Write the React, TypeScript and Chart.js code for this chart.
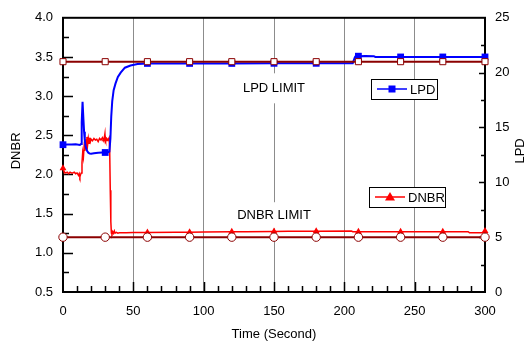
import React, { useEffect, useRef } from 'react';
import { Chart, registerables } from 'chart.js';
Chart.register(...registerables);

const FONT = '"Liberation Sans", Arial, Helvetica, sans-serif';

const xTickValues = [0, 50, 100, 150, 200, 250, 300];
const markerTimes = [0, 30, 60, 90, 120, 150, 180, 210, 240, 270, 300];
const lpdLimit = 21;
const dnbrLimit = 1.2;

const lpdTime = [0, 3, 6, 9, 12, 12.8, 13.3, 13.9, 14.5, 15, 15.5, 16, 17, 18, 19, 20, 22, 25, 28, 30, 32, 33, 33.7, 34.3, 35, 36, 37.3, 39, 41, 44, 48, 53, 60, 90, 120, 150, 180, 206, 207.5, 208, 210, 215, 221, 222, 240, 270, 300];
const lpdValues = [13.43, 13.45, 13.45, 13.46, 13.4, 13.5, 15.5, 17.35, 15.8, 14.6, 13.8, 13.3, 12.9, 12.7, 12.62, 12.6, 12.65, 12.7, 12.72, 12.72, 12.75, 12.8, 14.0, 16.0, 17.4, 18.4, 19.0, 19.6, 20.0, 20.45, 20.65, 20.78, 20.84, 20.84, 20.84, 20.85, 20.85, 20.86, 21.4, 21.5, 21.5, 21.52, 21.5, 21.43, 21.43, 21.43, 21.43];

const dnbrTime = [0, 0.5, 1, 2, 3, 4, 5, 6, 7, 8, 9, 10, 11, 11.5, 12, 12.5, 13, 13.5, 14, 14.5, 15, 15.5, 16, 16.5, 17, 17.5, 18, 18.5, 19, 19.5, 20, 21, 22, 23, 24, 25, 26, 27, 28, 29, 29.8, 30, 30.3, 31, 32, 32.8, 33.2, 33.6, 34, 34.4, 34.8, 35.3, 35.8, 36.5, 37, 38, 39, 40, 45, 50, 60, 80, 90, 100, 120, 130, 150, 160, 180, 205, 206, 210, 240, 270, 288, 289, 298, 300];
const dnbrValues = [2.08, 2.05, 2.03, 2.02, 2.03, 2.01, 2.03, 2.02, 2.02, 2.03, 2.01, 2.02, 1.99, 2.01, 1.97, 2.0, 2.02, 2.15, 2.28, 2.22, 2.35, 2.3, 2.45, 2.33, 2.48, 2.38, 2.46, 2.4, 2.47, 2.42, 2.45, 2.43, 2.46, 2.44, 2.45, 2.42, 2.46, 2.44, 2.47, 2.43, 2.52, 2.45, 2.43, 2.46, 2.44, 2.47, 2.3, 1.8, 1.4, 1.25, 1.24, 1.27, 1.25, 1.28, 1.25, 1.26, 1.25, 1.255, 1.255, 1.258, 1.26, 1.262, 1.264, 1.266, 1.269, 1.27, 1.272, 1.274, 1.276, 1.278, 1.27, 1.27, 1.27, 1.27, 1.27, 1.255, 1.255, 1.28];

const BLUE = '#0000ff';
const RED = '#ff0000';
const DARKRED = '#8b0000';

const toPoints = (xs: number[], ys: number[]) => xs.map((x, i) => ({ x, y: ys[i] }));
const markerRadius = (r: number) => (ctx: any) =>
  ctx.raw && markerTimes.includes(ctx.raw.x) ? r : 0;

const drawPlugin = {
  id: 'customDraw',
  beforeDatasetsDraw(chart: any) {
    const { ctx, chartArea: a, scales } = chart;
    const x = scales.x, y = scales.y, y1 = scales.y1;
    ctx.save();
    ctx.font = `13px ${FONT}`;
    ctx.textAlign = 'center';
    ctx.textBaseline = 'middle';
    const lx = x.getPixelForValue(150);
    const ly1 = y.getPixelForValue(3.1);
    ctx.fillStyle = '#fff';
    ctx.fillRect(lx - 34, ly1 - 15, 68, 30);
    ctx.fillStyle = '#000';
    ctx.fillText('LPD LIMIT', lx, ly1);
    const ly2 = y.getPixelForValue(1.48);
    ctx.fillStyle = '#fff';
    ctx.fillRect(lx - 38, ly2 - 13, 76, 26);
    ctx.fillStyle = '#000';
    ctx.fillText('DNBR LIMIT', lx, ly2);

    ctx.strokeStyle = '#000';
    ctx.lineWidth = 1.5;
    ctx.beginPath();
    for (let v = 10; v < 300; v += 10) {
      const px = Math.round(x.getPixelForValue(v)) + 0.5;
      const len = v % 50 === 0 ? 10 : 6;
      ctx.moveTo(px, a.bottom);
      ctx.lineTo(px, a.bottom - len);
    }
    for (let i = 1; i < 14; i++) {
      const v = 0.5 + i * 0.25;
      const py = Math.round(y.getPixelForValue(v)) + 0.5;
      const len = i % 2 === 0 ? 10 : 6;
      ctx.moveTo(a.left, py);
      ctx.lineTo(a.left + len, py);
    }
    for (let i = 1; i < 10; i++) {
      const v = i * 2.5;
      const py = Math.round(y1.getPixelForValue(v)) + 0.5;
      const len = i % 2 === 0 ? 6 : 4;
      ctx.moveTo(a.right, py);
      ctx.lineTo(a.right - len, py);
    }
    ctx.stroke();

    ctx.lineWidth = 2;
    ctx.strokeRect(a.left, a.top, a.right - a.left, a.bottom - a.top);
    ctx.restore();
  },
  afterDatasetsDraw(chart: any) {
    const { ctx, chartArea: a, scales } = chart;
    const x = scales.x, y = scales.y;
    ctx.save();
    ctx.font = `13px ${FONT}`;
    ctx.textBaseline = 'middle';
    ctx.textAlign = 'left';

    const legend = (left: number, top: number, w: number, label: string, color: string, shape: string) => {
      ctx.fillStyle = '#fff';
      ctx.fillRect(left, top, w, 20);
      ctx.strokeStyle = '#000';
      ctx.lineWidth = 1;
      ctx.strokeRect(left + 0.5, top + 0.5, w, 20);
      const cy = top + 10;
      ctx.strokeStyle = color;
      ctx.lineWidth = 1.5;
      ctx.beginPath();
      ctx.moveTo(left + 6, cy);
      ctx.lineTo(left + 36, cy);
      ctx.stroke();
      ctx.fillStyle = color;
      const mx = left + 21;
      if (shape === 'rect') {
        ctx.fillRect(mx - 3.5, cy - 3.5, 7, 7);
      } else {
        ctx.beginPath();
        ctx.moveTo(mx, cy - 5);
        ctx.lineTo(mx + 5, cy + 3.5);
        ctx.lineTo(mx - 5, cy + 3.5);
        ctx.closePath();
        ctx.fill();
      }
      ctx.fillStyle = '#000';
      ctx.fillText(label, left + 39, cy + 1);
    };
    legend(Math.round(x.getPixelForValue(219.2)), Math.round(y.getPixelForValue(3.213)), 66, 'LPD', BLUE, 'rect');
    legend(Math.round(x.getPixelForValue(217.7)), Math.round(y.getPixelForValue(1.835)), 76, 'DNBR', RED, 'tri');

    ctx.fillStyle = '#000';
    ctx.textAlign = 'center';
    const cy = (a.top + a.bottom) / 2 - 4;
    ctx.save();
    ctx.translate(16, cy);
    ctx.rotate(-Math.PI / 2);
    ctx.fillText('DNBR', 0, 0);
    ctx.restore();
    ctx.save();
    ctx.translate(520, cy);
    ctx.rotate(-Math.PI / 2);
    ctx.fillText('LPD', 0, 0);
    ctx.restore();
    ctx.fillText('Time (Second)', (a.left + a.right) / 2, 334);
    ctx.restore();
  },
};

export default function App() {
  const ref = useRef<HTMLCanvasElement | null>(null);
  useEffect(() => {
    if (!ref.current) return;
    const tickFont = { family: FONT, size: 13 };
    const chart = new Chart(ref.current, {
      type: 'line',
      data: {
        datasets: [
          {
            label: 'LPD LIMIT',
            data: markerTimes.map((t) => ({ x: t, y: lpdLimit })),
            yAxisID: 'y1',
            borderColor: DARKRED,
            borderWidth: 2,
            pointStyle: 'rect',
            pointRadius: 4.3,
            pointBackgroundColor: '#fff',
            pointBorderColor: DARKRED,
            pointBorderWidth: 1,
            clip: false,
          },
          {
            label: 'DNBR LIMIT',
            data: markerTimes.map((t) => ({ x: t, y: dnbrLimit })),
            yAxisID: 'y',
            borderColor: DARKRED,
            borderWidth: 2,
            pointStyle: 'circle',
            pointRadius: 4.2,
            pointBackgroundColor: '#fff',
            pointBorderColor: DARKRED,
            pointBorderWidth: 1,
            clip: false,
          },
          {
            label: 'LPD',
            data: toPoints(lpdTime, lpdValues),
            yAxisID: 'y1',
            borderColor: BLUE,
            borderWidth: 2,
            pointStyle: 'rect',
            pointRadius: markerRadius(4.8),
            pointBackgroundColor: BLUE,
            pointBorderColor: BLUE,
            pointBorderWidth: 0,
            clip: false,
          },
          {
            label: 'DNBR',
            data: toPoints(dnbrTime, dnbrValues),
            yAxisID: 'y',
            borderColor: RED,
            borderWidth: 1.5,
            pointStyle: 'triangle',
            pointRadius: markerRadius(4),
            pointBackgroundColor: RED,
            pointBorderColor: RED,
            pointBorderWidth: 0,
            clip: false,
          },
        ],
      },
      options: {
        animation: false,
        responsive: false,
        events: [],
        layout: { padding: { top: 17, left: 0, right: 0, bottom: 0 } },
        plugins: { legend: { display: false }, tooltip: { enabled: false } },
        elements: { line: { tension: 0 } },
        scales: {
          x: {
            type: 'linear',
            position: 'bottom',
            min: 0,
            max: 300,
            afterBuildTicks: (s: any) => {
              s.ticks = xTickValues.map((v) => ({ value: v }));
            },
            afterFit: (s: any) => {
              s.height = 50;
            },
            ticks: { font: tickFont, color: '#000', padding: 12, maxRotation: 0 },
            grid: {
              drawTicks: false,
              lineWidth: 1,
              color: (c: any) =>
                c.tick && c.tick.value > 0 && c.tick.value < 300 ? '#8c8c8c' : 'rgba(0,0,0,0)',
            },
            border: { display: false },
          },
          y: {
            type: 'linear',
            position: 'left',
            min: 0.5,
            max: 4,
            ticks: {
              stepSize: 0.5,
              font: tickFont,
              color: '#000',
              padding: 10,
              callback: (v: any) => Number(v).toFixed(1),
            },
            afterFit: (s: any) => {
              s.width = 63;
            },
            grid: { display: false, drawTicks: false },
            border: { display: false },
          },
          y1: {
            type: 'linear',
            position: 'right',
            min: 0,
            max: 25,
            ticks: { stepSize: 5, font: tickFont, color: '#000', padding: 10 },
            afterFit: (s: any) => {
              s.width = 42;
            },
            grid: { display: false, drawTicks: false },
            border: { display: false },
          },
        },
      },
      plugins: [drawPlugin],
    } as any);
    return () => chart.destroy();
  }, []);
  return (
    <div style={{ position: 'fixed', left: 0, top: 0, width: 527, height: 342, background: '#fff' }}>
      <canvas ref={ref} width={527} height={342} style={{ display: 'block', width: 527, height: 342 }} />
    </div>
  );
}
